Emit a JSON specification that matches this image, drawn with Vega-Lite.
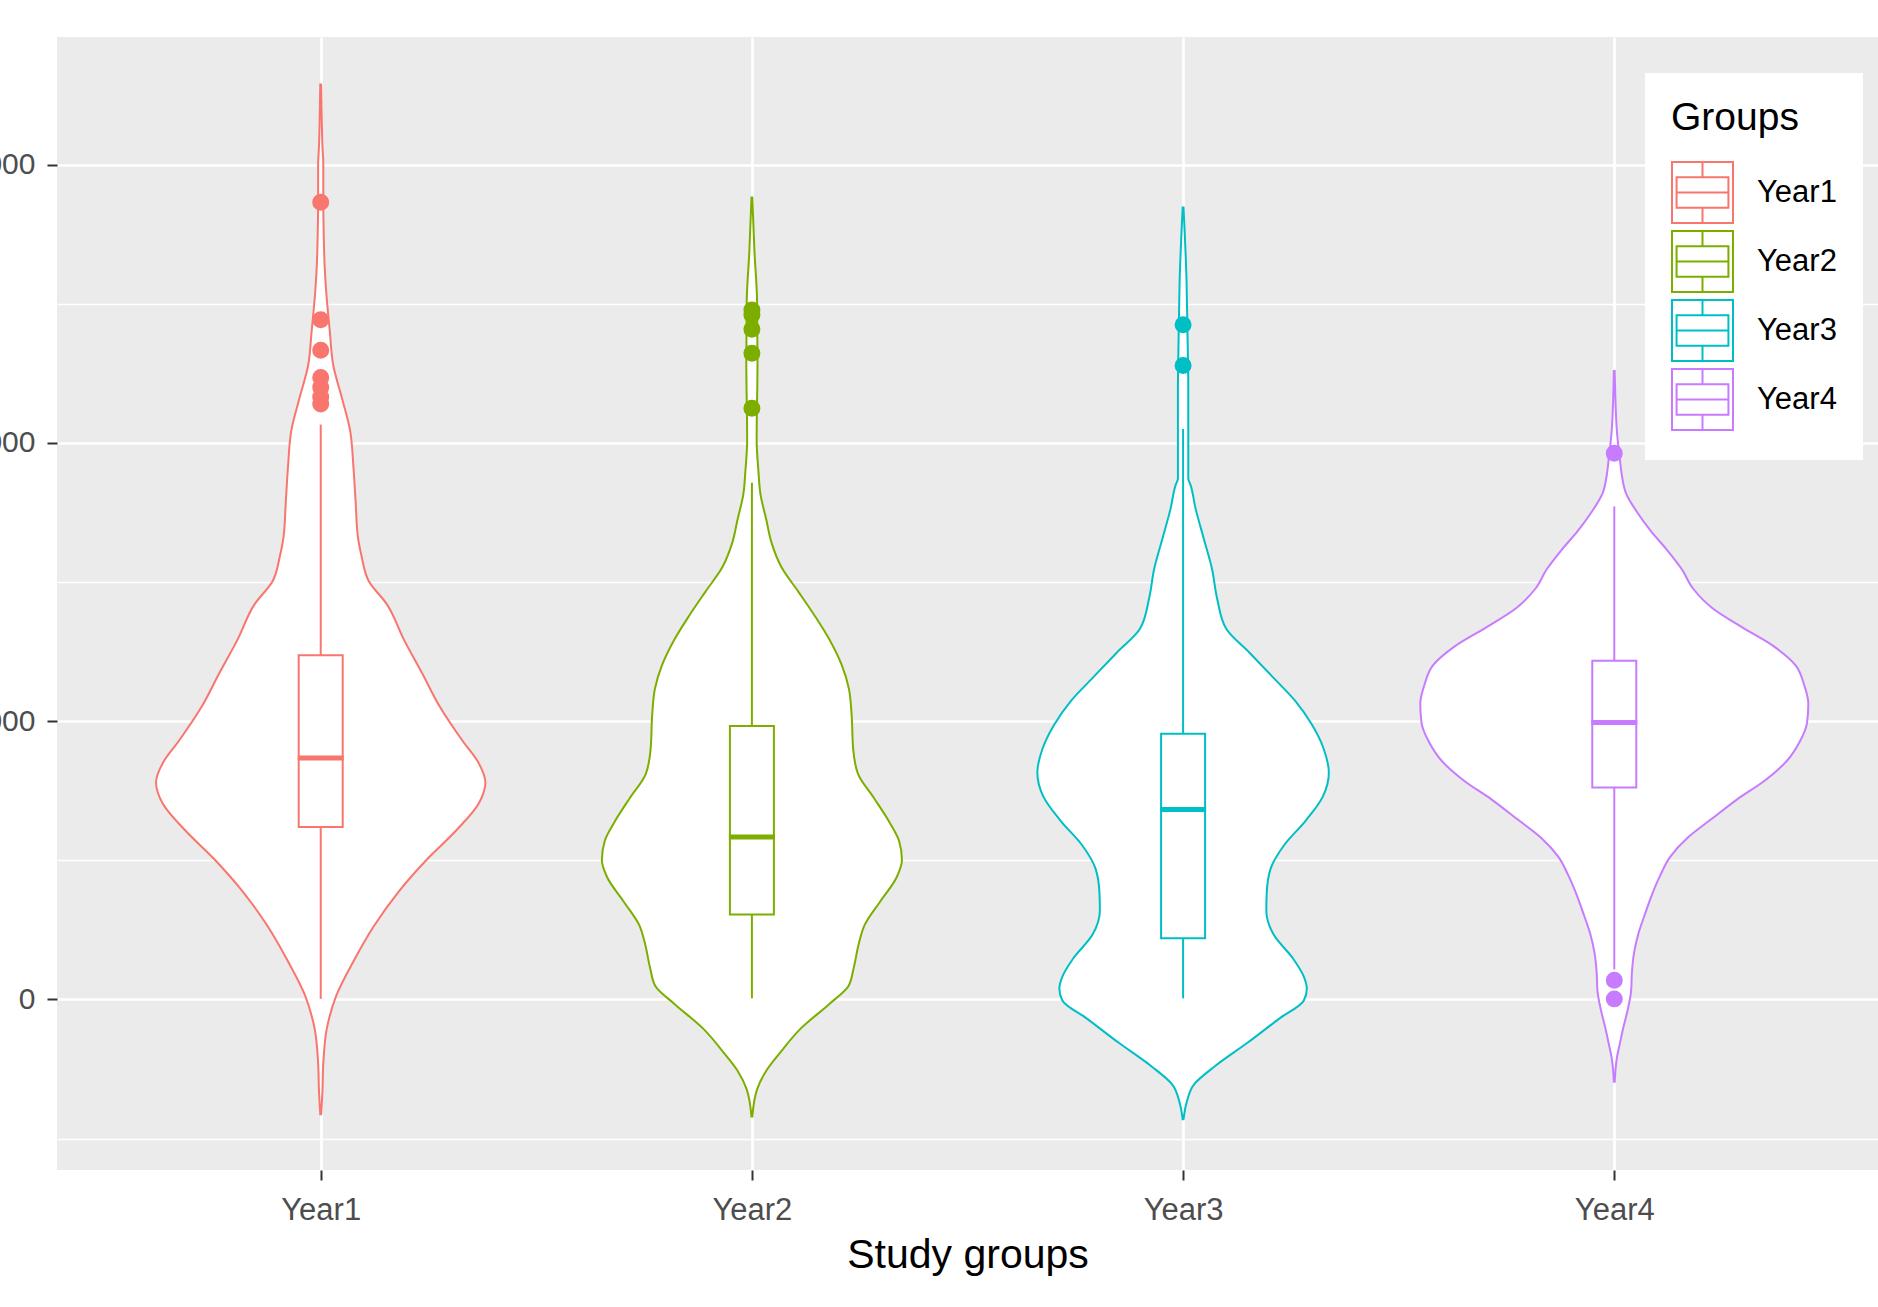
{
  "$schema": "https://vega.github.io/schema/vega-lite/v6.json",
  "width": 1821,
  "height": 1133,
  "autosize": {"type": "none"},
  "padding": {"left": 57, "top": 37, "right": 0, "bottom": 137},
  "background": "white",
  "datasets": {
    "violin": [
      {"group": "Year1", "g": 1, "v": -413, "w": 0.001},
      {"group": "Year1", "g": 1, "v": -330, "w": 0.004},
      {"group": "Year1", "g": 1, "v": -229, "w": 0.006},
      {"group": "Year1", "g": 1, "v": -106, "w": 0.014},
      {"group": "Year1", "g": 1, "v": 17, "w": 0.037},
      {"group": "Year1", "g": 1, "v": 140, "w": 0.077},
      {"group": "Year1", "g": 1, "v": 263, "w": 0.123},
      {"group": "Year1", "g": 1, "v": 386, "w": 0.18},
      {"group": "Year1", "g": 1, "v": 509, "w": 0.25},
      {"group": "Year1", "g": 1, "v": 607, "w": 0.314},
      {"group": "Year1", "g": 1, "v": 706, "w": 0.367},
      {"group": "Year1", "g": 1, "v": 780, "w": 0.382},
      {"group": "Year1", "g": 1, "v": 853, "w": 0.365},
      {"group": "Year1", "g": 1, "v": 927, "w": 0.33},
      {"group": "Year1", "g": 1, "v": 1050, "w": 0.277},
      {"group": "Year1", "g": 1, "v": 1173, "w": 0.235},
      {"group": "Year1", "g": 1, "v": 1296, "w": 0.192},
      {"group": "Year1", "g": 1, "v": 1419, "w": 0.154},
      {"group": "Year1", "g": 1, "v": 1505, "w": 0.111},
      {"group": "Year1", "g": 1, "v": 1591, "w": 0.095},
      {"group": "Year1", "g": 1, "v": 1665, "w": 0.086},
      {"group": "Year1", "g": 1, "v": 1788, "w": 0.081},
      {"group": "Year1", "g": 1, "v": 1911, "w": 0.076},
      {"group": "Year1", "g": 1, "v": 2046, "w": 0.068},
      {"group": "Year1", "g": 1, "v": 2157, "w": 0.05},
      {"group": "Year1", "g": 1, "v": 2280, "w": 0.029},
      {"group": "Year1", "g": 1, "v": 2403, "w": 0.021},
      {"group": "Year1", "g": 1, "v": 2538, "w": 0.013},
      {"group": "Year1", "g": 1, "v": 2640, "w": 0.009},
      {"group": "Year1", "g": 1, "v": 2750, "w": 0.007},
      {"group": "Year1", "g": 1, "v": 2870, "w": 0.006},
      {"group": "Year1", "g": 1, "v": 3000, "w": 0.006},
      {"group": "Year1", "g": 1, "v": 3067, "w": 0.004},
      {"group": "Year1", "g": 1, "v": 3200, "w": 0.002},
      {"group": "Year1", "g": 1, "v": 3288, "w": 0.001},

      {"group": "Year2", "g": 2, "v": -421, "w": 0.001},
      {"group": "Year2", "g": 2, "v": -323, "w": 0.012},
      {"group": "Year2", "g": 2, "v": -257, "w": 0.033},
      {"group": "Year2", "g": 2, "v": -192, "w": 0.065},
      {"group": "Year2", "g": 2, "v": -105, "w": 0.113},
      {"group": "Year2", "g": 2, "v": -17, "w": 0.179},
      {"group": "Year2", "g": 2, "v": 48, "w": 0.224},
      {"group": "Year2", "g": 2, "v": 113, "w": 0.236},
      {"group": "Year2", "g": 2, "v": 201, "w": 0.248},
      {"group": "Year2", "g": 2, "v": 266, "w": 0.261},
      {"group": "Year2", "g": 2, "v": 353, "w": 0.298},
      {"group": "Year2", "g": 2, "v": 440, "w": 0.336},
      {"group": "Year2", "g": 2, "v": 501, "w": 0.348},
      {"group": "Year2", "g": 2, "v": 571, "w": 0.341},
      {"group": "Year2", "g": 2, "v": 637, "w": 0.319},
      {"group": "Year2", "g": 2, "v": 724, "w": 0.283},
      {"group": "Year2", "g": 2, "v": 811, "w": 0.246},
      {"group": "Year2", "g": 2, "v": 898, "w": 0.235},
      {"group": "Year2", "g": 2, "v": 1029, "w": 0.231},
      {"group": "Year2", "g": 2, "v": 1116, "w": 0.225},
      {"group": "Year2", "g": 2, "v": 1203, "w": 0.208},
      {"group": "Year2", "g": 2, "v": 1290, "w": 0.181},
      {"group": "Year2", "g": 2, "v": 1378, "w": 0.146},
      {"group": "Year2", "g": 2, "v": 1465, "w": 0.108},
      {"group": "Year2", "g": 2, "v": 1552, "w": 0.069},
      {"group": "Year2", "g": 2, "v": 1639, "w": 0.046},
      {"group": "Year2", "g": 2, "v": 1727, "w": 0.033},
      {"group": "Year2", "g": 2, "v": 1814, "w": 0.02},
      {"group": "Year2", "g": 2, "v": 1901, "w": 0.015},
      {"group": "Year2", "g": 2, "v": 2010, "w": 0.011},
      {"group": "Year2", "g": 2, "v": 2293, "w": 0.013},
      {"group": "Year2", "g": 2, "v": 2511, "w": 0.012},
      {"group": "Year2", "g": 2, "v": 2686, "w": 0.006},
      {"group": "Year2", "g": 2, "v": 2882, "w": 0.001},

      {"group": "Year3", "g": 3, "v": -431, "w": 0.001},
      {"group": "Year3", "g": 3, "v": -371, "w": 0.008},
      {"group": "Year3", "g": 3, "v": -306, "w": 0.025},
      {"group": "Year3", "g": 3, "v": -241, "w": 0.073},
      {"group": "Year3", "g": 3, "v": -155, "w": 0.15},
      {"group": "Year3", "g": 3, "v": -69, "w": 0.223},
      {"group": "Year3", "g": 3, "v": -4, "w": 0.28},
      {"group": "Year3", "g": 3, "v": 39, "w": 0.287},
      {"group": "Year3", "g": 3, "v": 82, "w": 0.28},
      {"group": "Year3", "g": 3, "v": 147, "w": 0.255},
      {"group": "Year3", "g": 3, "v": 233, "w": 0.21},
      {"group": "Year3", "g": 3, "v": 319, "w": 0.193},
      {"group": "Year3", "g": 3, "v": 384, "w": 0.194},
      {"group": "Year3", "g": 3, "v": 470, "w": 0.203},
      {"group": "Year3", "g": 3, "v": 556, "w": 0.235},
      {"group": "Year3", "g": 3, "v": 642, "w": 0.284},
      {"group": "Year3", "g": 3, "v": 729, "w": 0.324},
      {"group": "Year3", "g": 3, "v": 815, "w": 0.338},
      {"group": "Year3", "g": 3, "v": 901, "w": 0.326},
      {"group": "Year3", "g": 3, "v": 987, "w": 0.299},
      {"group": "Year3", "g": 3, "v": 1073, "w": 0.26},
      {"group": "Year3", "g": 3, "v": 1160, "w": 0.207},
      {"group": "Year3", "g": 3, "v": 1246, "w": 0.154},
      {"group": "Year3", "g": 3, "v": 1332, "w": 0.1},
      {"group": "Year3", "g": 3, "v": 1440, "w": 0.079},
      {"group": "Year3", "g": 3, "v": 1548, "w": 0.067},
      {"group": "Year3", "g": 3, "v": 1656, "w": 0.048},
      {"group": "Year3", "g": 3, "v": 1764, "w": 0.029},
      {"group": "Year3", "g": 3, "v": 1850, "w": 0.017},
      {"group": "Year3", "g": 3, "v": 1871, "w": 0.012},
      {"group": "Year3", "g": 3, "v": 2195, "w": 0.012},
      {"group": "Year3", "g": 3, "v": 2410, "w": 0.01},
      {"group": "Year3", "g": 3, "v": 2583, "w": 0.008},
      {"group": "Year3", "g": 3, "v": 2846, "w": 0.001},

      {"group": "Year4", "g": 4, "v": -296, "w": 0.001},
      {"group": "Year4", "g": 4, "v": -210, "w": 0.006},
      {"group": "Year4", "g": 4, "v": -158, "w": 0.013},
      {"group": "Year4", "g": 4, "v": -107, "w": 0.02},
      {"group": "Year4", "g": 4, "v": -38, "w": 0.031},
      {"group": "Year4", "g": 4, "v": 31, "w": 0.039},
      {"group": "Year4", "g": 4, "v": 100, "w": 0.041},
      {"group": "Year4", "g": 4, "v": 169, "w": 0.046},
      {"group": "Year4", "g": 4, "v": 237, "w": 0.056},
      {"group": "Year4", "g": 4, "v": 306, "w": 0.071},
      {"group": "Year4", "g": 4, "v": 375, "w": 0.087},
      {"group": "Year4", "g": 4, "v": 444, "w": 0.106},
      {"group": "Year4", "g": 4, "v": 513, "w": 0.13},
      {"group": "Year4", "g": 4, "v": 581, "w": 0.17},
      {"group": "Year4", "g": 4, "v": 650, "w": 0.227},
      {"group": "Year4", "g": 4, "v": 719, "w": 0.285},
      {"group": "Year4", "g": 4, "v": 788, "w": 0.35},
      {"group": "Year4", "g": 4, "v": 857, "w": 0.4},
      {"group": "Year4", "g": 4, "v": 926, "w": 0.43},
      {"group": "Year4", "g": 4, "v": 994, "w": 0.447},
      {"group": "Year4", "g": 4, "v": 1063, "w": 0.45},
      {"group": "Year4", "g": 4, "v": 1132, "w": 0.44},
      {"group": "Year4", "g": 4, "v": 1200, "w": 0.421},
      {"group": "Year4", "g": 4, "v": 1269, "w": 0.37},
      {"group": "Year4", "g": 4, "v": 1338, "w": 0.296},
      {"group": "Year4", "g": 4, "v": 1407, "w": 0.227},
      {"group": "Year4", "g": 4, "v": 1476, "w": 0.183},
      {"group": "Year4", "g": 4, "v": 1545, "w": 0.157},
      {"group": "Year4", "g": 4, "v": 1614, "w": 0.123},
      {"group": "Year4", "g": 4, "v": 1683, "w": 0.085},
      {"group": "Year4", "g": 4, "v": 1751, "w": 0.053},
      {"group": "Year4", "g": 4, "v": 1820, "w": 0.027},
      {"group": "Year4", "g": 4, "v": 1889, "w": 0.017},
      {"group": "Year4", "g": 4, "v": 1941, "w": 0.013},
      {"group": "Year4", "g": 4, "v": 2044, "w": 0.006},
      {"group": "Year4", "g": 4, "v": 2259, "w": 0.001}
    ],
    "box": [
      {"group": "Year1", "g": 1, "q1": 620, "med": 868, "q3": 1237, "wlo": 2, "whi": 2066},
      {"group": "Year2", "g": 2, "q1": 305, "med": 584, "q3": 983, "wlo": 4, "whi": 1857},
      {"group": "Year3", "g": 3, "q1": 220, "med": 683, "q3": 955, "wlo": 4, "whi": 2050},
      {"group": "Year4", "g": 4, "q1": 762, "med": 995, "q3": 1217, "wlo": 108, "whi": 1772}
    ],
    "outliers": [
      {"group": "Year1", "g": 1, "v": 2865},
      {"group": "Year1", "g": 1, "v": 2443},
      {"group": "Year1", "g": 1, "v": 2333},
      {"group": "Year1", "g": 1, "v": 2235},
      {"group": "Year1", "g": 1, "v": 2200},
      {"group": "Year1", "g": 1, "v": 2165},
      {"group": "Year1", "g": 1, "v": 2140},
      {"group": "Year2", "g": 2, "v": 2478},
      {"group": "Year2", "g": 2, "v": 2460},
      {"group": "Year2", "g": 2, "v": 2409},
      {"group": "Year2", "g": 2, "v": 2322},
      {"group": "Year2", "g": 2, "v": 2125},
      {"group": "Year3", "g": 3, "v": 2425},
      {"group": "Year3", "g": 3, "v": 2278},
      {"group": "Year4", "g": 4, "v": 1963},
      {"group": "Year4", "g": 4, "v": 69},
      {"group": "Year4", "g": 4, "v": 2}
    ]
  },
  "config": {
    "view": {"fill": "#EBEBEB", "stroke": null},
    "font": "Liberation Sans",
    "axis": {
      "domain": false,
      "gridColor": "#FFFFFF",
      "tickColor": "#333333",
      "tickWidth": 2,
      "tickSize": 10,
      "labelColor": "#4D4D4D",
      "labelFont": "Liberation Sans",
      "titleFont": "Liberation Sans",
      "titleFontWeight": "normal",
      "titleColor": "#000000"
    },
    "legend": {
      "labelFont": "Liberation Sans",
      "titleFont": "Liberation Sans"
    }
  },
  "layer": [
    {
      "data": {"name": "violin"},
      "transform": [
        {"calculate": "datum.g - datum.w", "as": "lo"},
        {"calculate": "datum.g + datum.w", "as": "hi"}
      ],
      "mark": {"type": "area", "orient": "horizontal", "fill": "white", "stroke": null, "interpolate": "monotone"},
      "encoding": {
        "y": {
          "field": "v", "type": "quantitative", "title": null,
          "scale": {"domain": [-613, 3459], "nice": false, "zero": false},
          "axis": {
            "values": [-500, 0, 500, 1000, 1500, 2000, 2500, 3000],
            "format": "d",
            "labelExpr": "datum.value % 1000 === 0 ? datum.label : ''",
            "labelFontSize": 30,
            "labelPadding": 12,
            "gridWidth": {"condition": {"test": "datum.value % 1000 === 0", "value": 2.7}, "value": 1.4},
            "tickOpacity": {"condition": {"test": "datum.value % 1000 === 0", "value": 1}, "value": 0}
          }
        },
        "x": {
          "field": "lo", "type": "quantitative", "title": "Study groups", "stack": null,
          "scale": {"domain": [0.4, 4.6], "nice": false, "zero": false},
          "axis": {
            "values": [1, 2, 3, 4],
            "labelExpr": "'Year' + datum.value",
            "labelFontSize": 31,
            "labelPadding": 15,
            "gridWidth": 2.7,
            "titleFontSize": 41,
            "titlePadding": 10
          }
        },
        "x2": {"field": "hi"},
        "detail": {"field": "group", "type": "nominal"}
      }
    },
    {
      "data": {"name": "box"},
      "mark": {"type": "rule", "strokeWidth": 2},
      "encoding": {
        "x": {"field": "g", "type": "quantitative", "title": "Study groups"},
        "y": {"field": "wlo", "type": "quantitative", "title": null},
        "y2": {"field": "q1"},
        "stroke": {
          "field": "group", "type": "nominal",
          "scale": {"domain": ["Year1", "Year2", "Year3", "Year4"], "range": ["#F8766D", "#7CAE00", "#00BFC4", "#C77CFF"]},
          "legend": {
            "title": "Groups",
            "orient": "none",
            "legendX": 1588,
            "legendY": 36,
            "fillColor": "white",
            "padding": 26,
            "titleFontSize": 39,
            "titleColor": "#000000",
            "titleFontWeight": "normal",
            "titlePadding": 23,
            "labelFontSize": 31,
            "labelColor": "#000000",
            "labelOffset": 23,
            "symbolType": "M-1,-1H1V1H-1Z M-0.85,-0.5H0.85V0.5H-0.85Z M-0.85,0H0.85 M0,-1V-0.5 M0,0.5V1",
            "symbolSize": 3721,
            "symbolStrokeWidth": 2,
            "symbolFillColor": "white",
            "symbolOffset": 0,
            "rowPadding": 0,
            "encode": {
              "symbols": {
                "update": {
                  "fill": {"value": "white"},
                  "shape": {"value": "M-1,-1H1V1H-1Z M-0.85,-0.5H0.85V0.5H-0.85Z M-0.85,0H0.85 M0,-1V-0.5 M0,0.5V1"},
                  "strokeWidth": {"value": 2}
                }
              }
            }
          }
        }
      }
    },
    {
      "data": {"name": "box"},
      "mark": {"type": "rule", "strokeWidth": 2},
      "encoding": {
        "x": {"field": "g", "type": "quantitative", "title": "Study groups"},
        "y": {"field": "q3", "type": "quantitative", "title": null},
        "y2": {"field": "whi"},
        "stroke": {"field": "group", "type": "nominal"}
      }
    },
    {
      "data": {"name": "violin"},
      "transform": [
        {"calculate": "datum.g - datum.w", "as": "lo"},
        {"calculate": "datum.g + datum.w", "as": "hi"}
      ],
      "mark": {"type": "area", "orient": "horizontal", "filled": false, "strokeWidth": 2, "interpolate": "monotone"},
      "encoding": {
        "y": {"field": "v", "type": "quantitative", "title": null},
        "x": {"field": "lo", "type": "quantitative", "title": "Study groups", "stack": null},
        "x2": {"field": "hi"},
        "stroke": {"field": "group", "type": "nominal"}
      }
    },
    {
      "data": {"name": "box"},
      "mark": {"type": "bar", "width": 44, "filled": false, "strokeWidth": 2},
      "encoding": {
        "x": {"field": "g", "type": "quantitative", "title": "Study groups"},
        "y": {"field": "q1", "type": "quantitative", "title": null},
        "y2": {"field": "q3"},
        "stroke": {"field": "group", "type": "nominal"}
      }
    },
    {
      "data": {"name": "box"},
      "mark": {"type": "tick", "orient": "horizontal", "thickness": 1, "filled": false, "strokeWidth": 4, "opacity": 1},
      "encoding": {
        "x": {"field": "g", "type": "quantitative", "title": "Study groups"},
        "y": {"field": "med", "type": "quantitative", "title": null},
        "size": {"value": 42},
        "stroke": {"field": "group", "type": "nominal"}
      }
    },
    {
      "data": {"name": "outliers"},
      "mark": {"type": "point", "filled": false, "opacity": 1, "size": 72, "strokeWidth": 8.5, "shape": "circle"},
      "encoding": {
        "x": {"field": "g", "type": "quantitative", "title": "Study groups"},
        "y": {"field": "v", "type": "quantitative", "title": null},
        "stroke": {"field": "group", "type": "nominal"}
      }
    }
  ]
}
